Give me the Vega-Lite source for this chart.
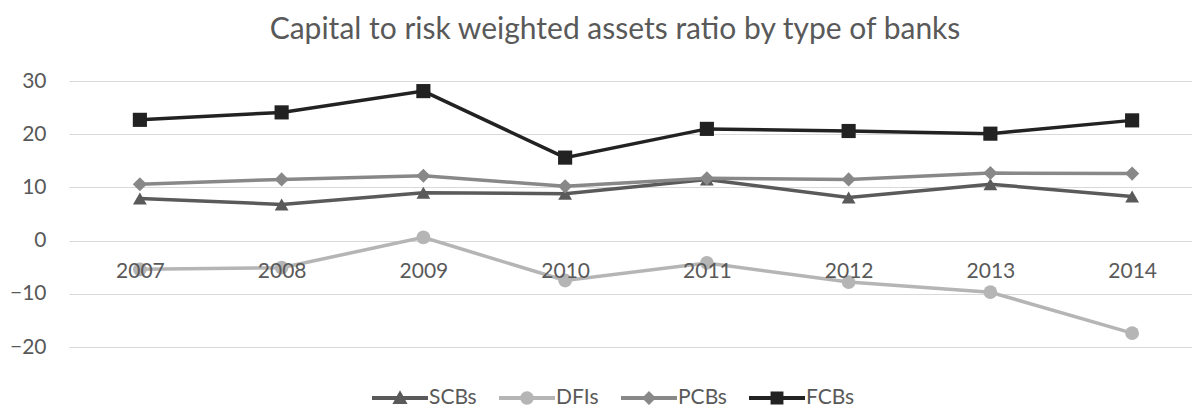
{
  "$schema": "https://vega.github.io/schema/vega-lite/v6.json",
  "width": 1134,
  "height": 266,
  "autosize": {"type": "none"},
  "padding": {"left": 69, "top": 81, "right": 0, "bottom": 63},
  "background": "white",
  "title": {"text": "Capital to risk weighted assets ratio by type of banks", "font": "Lato", "fontSize": 30, "fontWeight": "normal", "color": "#595959", "anchor": "middle", "offset": 25, "dx": -21},
  "config": {"view": {"stroke": null}, "font": "Lato"},
  "data": {"values": [
    {"year": "2007", "type": "SCBs", "value": 7.9},
    {"year": "2008", "type": "SCBs", "value": 6.8},
    {"year": "2009", "type": "SCBs", "value": 9.0},
    {"year": "2010", "type": "SCBs", "value": 8.8},
    {"year": "2011", "type": "SCBs", "value": 11.5},
    {"year": "2012", "type": "SCBs", "value": 8.1},
    {"year": "2013", "type": "SCBs", "value": 10.6},
    {"year": "2014", "type": "SCBs", "value": 8.3},
    {"year": "2007", "type": "DFIs", "value": -5.4},
    {"year": "2008", "type": "DFIs", "value": -5.1},
    {"year": "2009", "type": "DFIs", "value": 0.6},
    {"year": "2010", "type": "DFIs", "value": -7.5},
    {"year": "2011", "type": "DFIs", "value": -4.2},
    {"year": "2012", "type": "DFIs", "value": -7.8},
    {"year": "2013", "type": "DFIs", "value": -9.7},
    {"year": "2014", "type": "DFIs", "value": -17.4},
    {"year": "2007", "type": "PCBs", "value": 10.6},
    {"year": "2008", "type": "PCBs", "value": 11.5},
    {"year": "2009", "type": "PCBs", "value": 12.2},
    {"year": "2010", "type": "PCBs", "value": 10.2},
    {"year": "2011", "type": "PCBs", "value": 11.7},
    {"year": "2012", "type": "PCBs", "value": 11.5},
    {"year": "2013", "type": "PCBs", "value": 12.7},
    {"year": "2014", "type": "PCBs", "value": 12.6},
    {"year": "2007", "type": "FCBs", "value": 22.7},
    {"year": "2008", "type": "FCBs", "value": 24.1},
    {"year": "2009", "type": "FCBs", "value": 28.1},
    {"year": "2010", "type": "FCBs", "value": 15.6},
    {"year": "2011", "type": "FCBs", "value": 21.0},
    {"year": "2012", "type": "FCBs", "value": 20.6},
    {"year": "2013", "type": "FCBs", "value": 20.1},
    {"year": "2014", "type": "FCBs", "value": 22.6}
  ]},
  "encoding": {
    "x": {"field": "year", "type": "ordinal", "scale": {"padding": 0.5},
      "axis": {"title": null, "labelAngle": 0, "domain": false, "ticks": false, "grid": false, "offset": -106.4, "labelPadding": 20, "labelFontSize": 21, "labelColor": "#595959", "labelFont": "Lato", "zindex": 1}},
    "y": {"field": "value", "type": "quantitative", "scale": {"domain": [-20, 30], "nice": false, "zero": false},
      "axis": {"title": null, "values": [-20, -10, 0, 10, 20, 30], "domain": false, "ticks": false, "grid": true, "gridColor": "#d9d9d9", "gridWidth": 1.2, "labelPadding": 23, "labelFontSize": 21, "labelColor": "#595959", "labelFont": "Lato", "zindex": 0}},
    "color": {"field": "type", "type": "nominal", "scale": {"domain": ["SCBs", "DFIs", "PCBs", "FCBs"], "range": ["#5a5a5a", "#b5b5b5", "#888888", "#222222"]},
      "legend": {
        "title": null, "orient": "none", "direction": "horizontal", "legendX": 303, "legendY": 289,
        "symbolSize": 3136, "symbolStrokeWidth": 0, "labelFontSize": 21, "labelColor": "#595959", "labelFont": "Lato", "labelOffset": 1, "columnPadding": 22
      }}
  },
  "layer": [
    {
      "mark": {"type": "line", "strokeWidth": 3.5},
      "encoding": {"detail": {"field": "type"}, "order": {"field": "year"}}
    },
    {
      "mark": {"type": "point", "filled": true, "opacity": 1, "size": 0},
      "encoding": {
        "shape": {"field": "type", "type": "nominal", "scale": {"domain": ["SCBs", "DFIs", "PCBs", "FCBs"], "range": [
          "M-1,-0.07H1V0.07H-1Z M0,-0.28L0.27,0.21H-0.27Z",
          "M-1,-0.07H1V0.07H-1Z M0.24,0A0.24,0.24,0,1,1,-0.24,0A0.24,0.24,0,1,1,0.24,0Z",
          "M-1,-0.07H1V0.07H-1Z M-0.25,0L0,-0.25L0.25,0L0,0.25Z",
          "M-1,-0.07H1V0.07H-1Z M-0.23,-0.23H0.23V0.23H-0.23Z"
        ]}}
      }
    },
    {
      "transform": [{"filter": "datum.type === 'SCBs'"}],
      "mark": {"type": "point", "filled": true, "opacity": 1, "size": 190, "shape": "triangle-up"}
    },
    {
      "transform": [{"filter": "datum.type === 'DFIs'"}],
      "mark": {"type": "point", "filled": true, "opacity": 1, "size": 190, "shape": "circle"}
    },
    {
      "transform": [{"filter": "datum.type === 'PCBs'"}],
      "mark": {"type": "point", "filled": true, "opacity": 1, "size": 200, "shape": "diamond"}
    },
    {
      "transform": [{"filter": "datum.type === 'FCBs'"}],
      "mark": {"type": "point", "filled": true, "opacity": 1, "size": 200, "shape": "square"}
    }
  ]
}
